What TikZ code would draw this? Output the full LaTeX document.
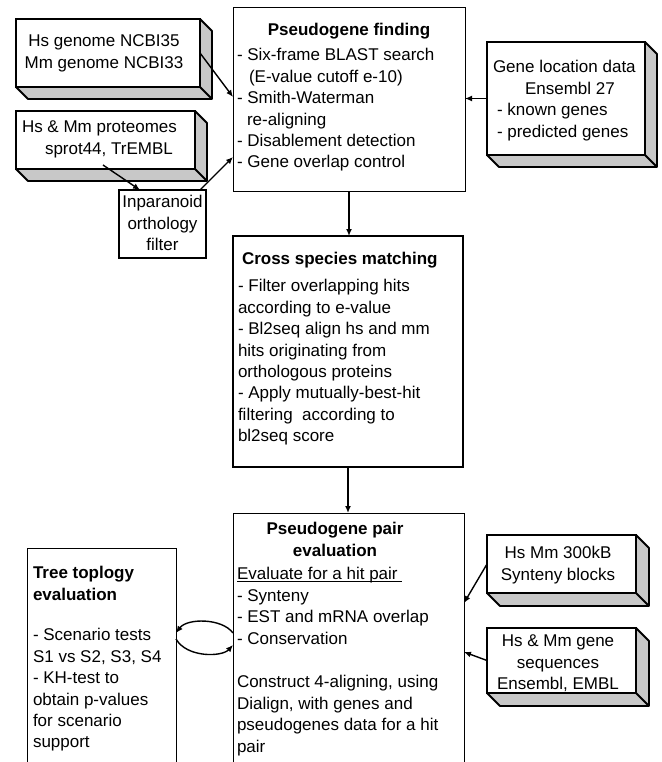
\documentclass[tikz,border=0pt]{standalone}
\usepackage{fontspec}
\setmainfont{Liberation Sans}
\usetikzlibrary{arrows.meta}
\definecolor{sidegray}{RGB}{200,200,200}
\tikzset{
  txt/.style={font=\fontsize{17}{21.4}\selectfont, inner sep=0pt, outer sep=0pt},
  ttl/.style={font=\fontsize{17}{21.4}\selectfont\bfseries, inner sep=0pt, outer sep=0pt},
  front/.style={draw=black, fill=white, line width=1.8pt, inner sep=0pt, outer sep=0pt, anchor=north west, line join=miter},
  side/.style={draw=black, fill=sidegray, line width=1.8pt, line join=round},
  thinbox/.style={draw=black, line width=0.9pt, inner sep=0pt, outer sep=0pt, anchor=north west},
  thickbox/.style={draw=black, line width=1.8pt, inner sep=0pt, outer sep=0pt, anchor=north west},
  arr/.style={line width=1.4pt, -{Latex[length=7pt,width=6pt]}},
}
\newcommand\slabsides[2]{%
  \filldraw[side] (#1.north east) -- ([shift={(#2,#2)}]#1.north east)
    -- ([shift={(#2,#2)}]#1.south east) -- ([shift={(#2,#2)}]#1.south west)
    -- (#1.south west) -- (#1.south east) -- cycle;
  \draw[side] (#1.south east) -- ([shift={(#2,#2)}]#1.south east);
  \draw[line width=1.8pt] (#1.north west) rectangle (#1.south east);
}
\begin{document}
\begin{tikzpicture}[x=1pt,y=-1pt]
\useasboundingbox (0,0) rectangle (661,762);
\clip (0,0) rectangle (661,762);

% ---- 3D source boxes ----
\node[front, minimum width=184pt, minimum height=68pt] (hg) at (16,19) {};
\slabsides{hg}{12}
\node[txt, anchor=north, align=center] (hgt) at (104,32) {\strut Hs genome NCBI35\\Mm genome NCBI33};

\node[front, minimum width=179pt, minimum height=58pt] (pr) at (16,111) {};
\slabsides{pr}{12}
\node[txt, anchor=north west, align=left] (prt) at (22,118) {\strut Hs \& Mm proteomes\\\hspace*{23pt}sprot44, TrEMBL};

\node[front, minimum width=158pt, minimum height=113pt] (gl) at (487,42) {};
\slabsides{gl}{12}
\node[txt, anchor=north west, align=left] (glt) at (493,58) {\strut Gene location data\\\hspace*{32pt}Ensembl 27\\\hspace*{4pt}- known genes\\\hspace*{4pt}- predicted genes};

\node[front, minimum width=149pt, minimum height=58pt] (sb) at (487,535) {};
\slabsides{sb}{13}
\node[txt, anchor=north, align=center] (sbt) at (558,544) {\strut Hs Mm 300kB\\Synteny blocks};

\node[front, minimum width=149pt, minimum height=65pt] (gs) at (487,628) {};
\slabsides{gs}{13}
\node[txt, anchor=north, align=center] (gst) at (558,632) {\strut Hs \& Mm gene\\sequences\\Ensembl, EMBL};

% ---- Inparanoid ----
\node[thickbox, minimum width=87pt, minimum height=68pt] (inp) at (119,190) {};
\node[txt, anchor=north, align=center] (inpt) at (162.5,193) {\strut Inparanoid\\orthology\\filter};

% ---- Pseudogene finding ----
\node[thinbox, minimum width=232pt, minimum height=184pt] (pf) at (233,7) {};
\node[ttl, anchor=base] (pftt) at (349,36) {Pseudogene finding};
\node[txt, anchor=north west, align=left] (pfb) at (237,46) {\strut - Six-frame BLAST search\\\hspace*{12pt}(E-value cutoff e-10)\\- Smith-Waterman\\\hspace*{10pt}re-aligning\\- Disablement detection\\- Gene overlap control};

% ---- Cross species matching ----
\node[thickbox, minimum width=230pt, minimum height=231pt] (cs) at (233,236) {};
\node[ttl, anchor=base west] (cstt) at (242,264) {Cross species matching};
\node[txt, anchor=north west, align=left] (csb) at (238,277) {\strut - Filter overlapping hits\\according to e-value\\- Bl2seq align hs and mm\\hits originating from\\orthologous proteins\\- Apply mutually-best-hit\\filtering\ \ according to\\bl2seq score};

% ---- Pseudogene pair evaluation ----
\node[thinbox, minimum width=231pt, minimum height=262pt] (pp) at (233,513) {};
\node[ttl, anchor=north, align=center] (pptt) at (335,520) {\strut Pseudogene pair\\evaluation};
\node[txt, anchor=north west, align=left] (ppb1) at (237,565) {\strut\underbar{Evaluate for a hit pair\ }\\- Synteny\\- EST and mRNA overlap\\- Conservation};
\node[txt, anchor=north west, align=left] (ppb2) at (237,673) {\strut Construct 4-aligning, using\\Dialign, with genes and\\pseudogenes data for a hit\\pair};

% ---- Tree topology evaluation ----
\node[thinbox, minimum width=149pt, minimum height=227pt] (tt) at (27,548) {};
\node[ttl, anchor=north west, align=left] (tttt) at (33,564) {\strut Tree toplogy\\evaluation};
\node[txt, anchor=north west, align=left] (ttb) at (33,626) {\strut - Scenario tests\\S1 vs S2, S3, S4\\- KH-test to\\obtain p-values\\for scenario\\support};

% ---- connector end points ----
\coordinate (pfin1) at (233,97);
\coordinate (prout) at (103,165);
\coordinate (inpin) at (140,190);
\coordinate (inpout) at (200,190);
\coordinate (pfin2) at (233,157);
\coordinate (ppin1) at (464,603);
\coordinate (ppin2) at (464,652);
\coordinate (ppA) at (233,633);
\coordinate (ttA) at (176,633);
\coordinate (ttB) at (176,639);
\coordinate (ppB) at (233,645);

% ---- connectors ----
\draw[arr] (hg.east) -- (pfin1);
\draw[arr] (prout) -- (inpin);
\draw[arr] (inpout) -- (pfin2);
\draw[arr] (gl.west) -- (gl.west -| pf.east);
\draw[arr] (pf.south) -- (pf.south |- cs.north);
\draw[arr] (cs.south) -- (cs.south |- pp.north);
\draw[arr] (sb.west) -- (ppin1);
\draw[arr] (gs.west) -- (ppin2);
\draw[arr] (ppA) .. controls (222,618) and (187,618) .. (ttA);
\draw[arr] (ttB) .. controls (187,658) and (222,657) .. (ppB);
\end{tikzpicture}
\end{document}
